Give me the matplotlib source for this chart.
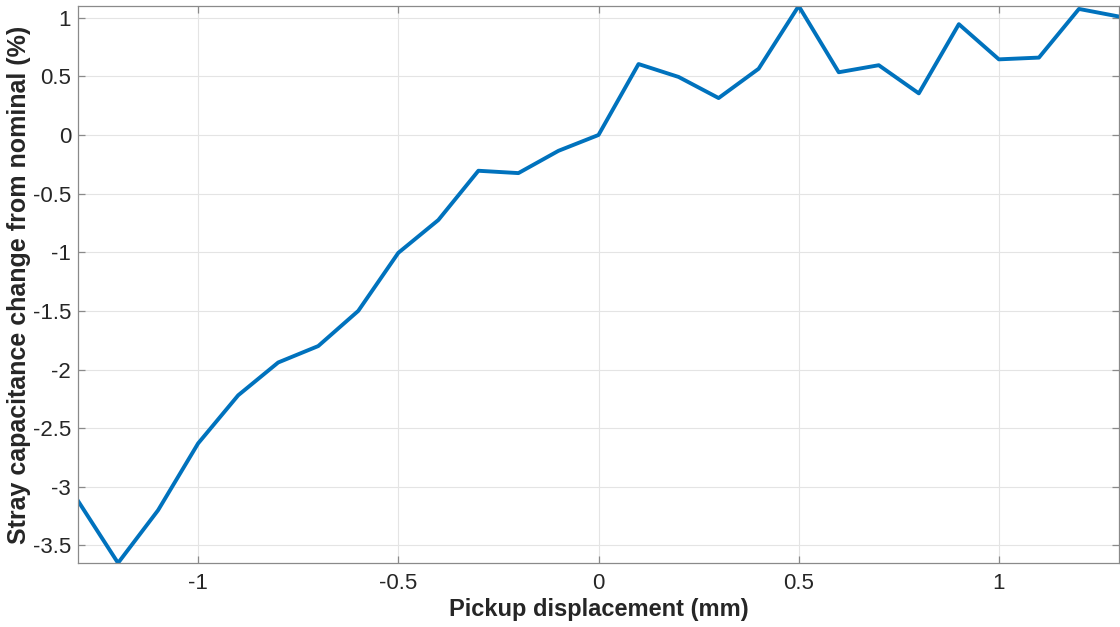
import numpy as np
import matplotlib
matplotlib.use("Agg")
import matplotlib.pyplot as plt
from matplotlib.ticker import FuncFormatter

# displacement (mm) and stray capacitance change (%)
displacement = [-1.3, -1.2, -1.1, -1.0, -0.9, -0.8, -0.7, -0.6, -0.5, -0.4,
                -0.3, -0.2, -0.1, 0.0, 0.1, 0.2, 0.3, 0.4, 0.5, 0.6,
                0.7, 0.8, 0.9, 1.0, 1.1, 1.2, 1.3]
cap_change = [-3.12, -3.65, -3.20, -2.63, -2.22, -1.94, -1.80, -1.50, -1.005, -0.725,
              -0.305, -0.325, -0.135, 0.0, 0.605, 0.495, 0.315, 0.565, 1.10, 0.535,
              0.595, 0.355, 0.945, 0.645, 0.66, 1.075, 1.01]
xticks = [-1, -0.5, 0, 0.5, 1]
yticks = [-3.5, -3, -2.5, -2, -1.5, -1, -0.5, 0, 0.5, 1]

plt.rcParams['font.family'] = ['Liberation Sans', 'DejaVu Sans']
plt.rcParams['axes.unicode_minus'] = False

fig = plt.figure(figsize=(11.2, 6.27), dpi=100)
ax = fig.add_axes([78 / 1120, 64 / 627, 1041 / 1120, 557 / 627])

ax.plot(displacement, cap_change, color='#0072BD', lw=2.8)

ax.set_xlim(min(displacement), max(displacement))
ax.set_ylim(min(cap_change), max(cap_change))
ax.set_xticks(xticks)
ax.set_yticks(yticks)
fmt = FuncFormatter(lambda v, p: '%g' % v)
ax.xaxis.set_major_formatter(fmt)
ax.yaxis.set_major_formatter(fmt)

ax.grid(True, color='#e4e4e4', lw=0.8)
ax.set_axisbelow(True)
for s in ax.spines.values():
    s.set_color('#8a8a8a')
    s.set_linewidth(0.9)
ax.tick_params(direction='in', length=5, width=0.9, color='#8a8a8a',
               labelcolor='#262626', labelsize=16, top=True, right=True)
ax.tick_params(axis='y', pad=5)
ax.tick_params(axis='x', pad=7)

ax.set_xlabel('Pickup displacement (mm)', fontsize=17, fontweight='bold',
              color='#262626', labelpad=3)
ax.set_ylabel('Stray capacitance change from nominal (%)', fontsize=18,
              fontweight='bold', color='#262626', labelpad=1)

fig.savefig('out.png', dpi=100)
